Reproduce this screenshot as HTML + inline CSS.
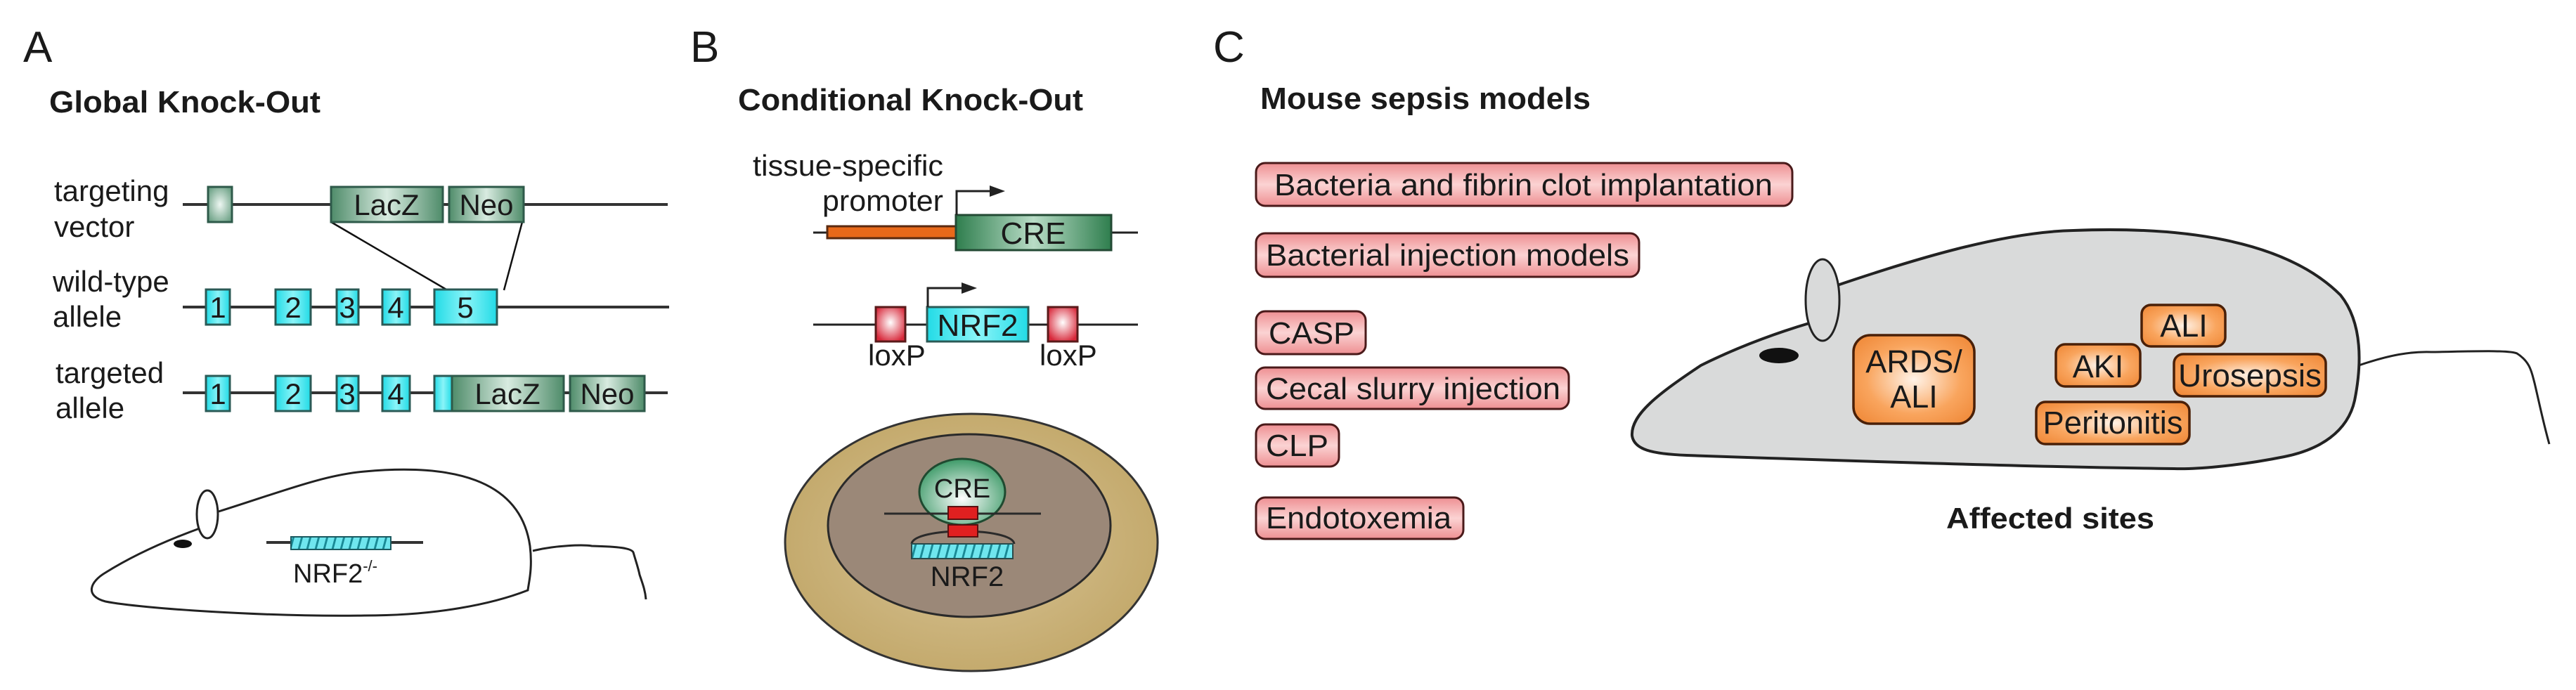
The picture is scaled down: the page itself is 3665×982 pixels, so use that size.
<!DOCTYPE html>
<html><head><meta charset="utf-8"><style>
html,body{margin:0;padding:0;background:#fff;width:3665px;height:982px;overflow:hidden}
svg{display:block}
text{font-family:"Liberation Sans",Arial,sans-serif;fill:#1a1a1a}
</style></head><body>
<svg width="3665" height="982" viewBox="0 0 3665 982" xmlns="http://www.w3.org/2000/svg">
<defs>
<linearGradient id="gr" x1="0" x2="1" y1="0" y2="0">
<stop offset="0" stop-color="#4f8c6a"/><stop offset="0.5" stop-color="#d8ebe0"/><stop offset="1" stop-color="#4f8c6a"/></linearGradient>
<radialGradient id="grs" cx="0.5" cy="0.5" r="0.6"><stop offset="0" stop-color="#eef7f2"/><stop offset="1" stop-color="#6fa388"/></radialGradient>
<linearGradient id="cy" x1="0" x2="1" y1="0" y2="0">
<stop offset="0" stop-color="#22dbe6"/><stop offset="0.5" stop-color="#8af4f8"/><stop offset="1" stop-color="#22dbe6"/></linearGradient>
<linearGradient id="cre" x1="0" x2="1" y1="0" y2="0">
<stop offset="0" stop-color="#2f7e4e"/><stop offset="0.5" stop-color="#b8dcc6"/><stop offset="1" stop-color="#2f7e4e"/></linearGradient>
<radialGradient id="red" cx="0.5" cy="0.45" r="0.6"><stop offset="0" stop-color="#ffffff"/><stop offset="1" stop-color="#d8283a"/></radialGradient>
<radialGradient id="cre2" cx="0.5" cy="0.6" r="0.6"><stop offset="0" stop-color="#ffffff"/><stop offset="1" stop-color="#3d9a68"/></radialGradient>
<radialGradient id="tan" cx="0.5" cy="0.5" r="0.6"><stop offset="0" stop-color="#d8c497"/><stop offset="1" stop-color="#c0a565"/></radialGradient>
<linearGradient id="pink" x1="0" x2="0" y1="0" y2="1">
<stop offset="0" stop-color="#ee8f92"/><stop offset="0.5" stop-color="#fbd3d3"/><stop offset="1" stop-color="#ee8f92"/></linearGradient>
<radialGradient id="org" cx="0.5" cy="0.5" r="0.65"><stop offset="0" stop-color="#fff3e8"/><stop offset="0.6" stop-color="#f9a55e"/><stop offset="1" stop-color="#f08a3a"/></radialGradient>
<pattern id="dash" width="12" height="20" patternUnits="userSpaceOnUse" patternTransform="skewX(-15)">
<rect width="12" height="20" fill="#6fe6ee"/><rect x="9" width="3" height="20" fill="#1a8a96"/></pattern>
</defs>

<!-- Panel A -->
<text x="33" y="88" font-size="62">A</text>
<text x="70" y="160" font-size="44" font-weight="bold" textLength="386" lengthAdjust="spacingAndGlyphs">Global Knock-Out</text>

<g stroke="#333" stroke-width="4">
<line x1="260" y1="291" x2="950" y2="291"/>
<line x1="260" y1="437" x2="952" y2="437"/>
<line x1="260" y1="559" x2="950" y2="559"/>
</g>
<g stroke="#111" stroke-width="2.5">
<line x1="471" y1="316" x2="635" y2="412"/>
<line x1="743" y1="316" x2="717" y2="413"/>
</g>
<g font-size="42">
<text x="77" y="286">targeting</text><text x="77" y="337">vector</text>
<text x="75" y="415">wild-type</text><text x="75" y="465">allele</text>
<text x="79" y="545">targeted</text><text x="79" y="595">allele</text>
</g>
<g stroke="#2e5a4a" stroke-width="3">
<rect x="296" y="266" width="34" height="50" fill="url(#grs)"/>
<rect x="471" y="266" width="159" height="50" fill="url(#gr)"/>
<rect x="639" y="266" width="106" height="50" fill="url(#gr)"/>
</g>
<g stroke="#2a5a56" stroke-width="3" fill="url(#cy)">
<rect x="293" y="412" width="34" height="50"/><rect x="392" y="412" width="50" height="50"/>
<rect x="479" y="412" width="31" height="50"/><rect x="544" y="412" width="39" height="50"/>
<rect x="618" y="412" width="89" height="50"/>
<rect x="293" y="535" width="34" height="50"/><rect x="392" y="535" width="50" height="50"/>
<rect x="479" y="535" width="31" height="50"/><rect x="544" y="535" width="39" height="50"/>
<rect x="618" y="535" width="25" height="50"/>
</g>
<g stroke="#2e5a4a" stroke-width="3">
<rect x="643" y="535" width="159" height="50" fill="url(#gr)"/>
<rect x="811" y="535" width="106" height="50" fill="url(#gr)"/>
</g>
<g font-size="42" text-anchor="middle">
<text x="550" y="306">LacZ</text><text x="692" y="306">Neo</text>
<text x="310" y="452">1</text><text x="417" y="452">2</text><text x="494" y="452">3</text><text x="563" y="452">4</text><text x="662" y="452">5</text>
<text x="310" y="575">1</text><text x="417" y="575">2</text><text x="494" y="575">3</text><text x="563" y="575">4</text>
<text x="722" y="575">LacZ</text><text x="864" y="575">Neo</text>
</g>

<!-- mouse A -->
<g fill="none" stroke="#222" stroke-width="3">
<path d="M311 728 C400 700 460 676 519 671 C640 660 740 680 754 777 C758 810 752 830 751 840 C700 860 620 876 519 876 C380 878 200 866 150 856 C120 848 128 828 150 815 C190 790 240 768 284 752"/>
<path d="M758 784 C790 776 830 775 842 777 C880 778 898 780 901 786 C905 800 908 808 910 818 C914 830 918 840 919 853"/>
</g>
<ellipse cx="295" cy="732" rx="15" ry="34" fill="#fff" stroke="#222" stroke-width="3"/>
<ellipse cx="260" cy="774" rx="13" ry="6" fill="#111"/>
<line x1="379" y1="772" x2="602" y2="772" stroke="#333" stroke-width="4"/>
<rect x="414" y="764" width="142" height="18" fill="url(#dash)" stroke="#1c5a60" stroke-width="2"/>
<text x="417" y="829" font-size="38" fill="#333">NRF2<tspan font-size="22" dy="-16">-/-</tspan></text>

<!-- Panel B -->
<text x="982" y="88" font-size="62">B</text>
<text x="1050" y="157" font-size="44" font-weight="bold" textLength="491" lengthAdjust="spacingAndGlyphs">Conditional Knock-Out</text>
<text x="1071" y="250" font-size="42" fill="#333" textLength="271" lengthAdjust="spacingAndGlyphs">tissue-specific</text>
<text x="1170" y="300" font-size="42" fill="#333" textLength="172" lengthAdjust="spacingAndGlyphs">promoter</text>
<line x1="1157" y1="331" x2="1619" y2="331" stroke="#222" stroke-width="3"/>
<rect x="1177" y="322" width="183" height="17" fill="#e8691a" stroke="#5a2a10" stroke-width="3"/>
<rect x="1360" y="306" width="221" height="50" fill="url(#cre)" stroke="#234a34" stroke-width="3"/>
<text x="1470" y="347" font-size="44" text-anchor="middle" fill="#3a4a44">CRE</text>
<path d="M1361 306 V272 H1412" fill="none" stroke="#222" stroke-width="3"/>
<path d="M1408 264 L1430 272 L1408 280 Z" fill="#222"/>

<line x1="1157" y1="462" x2="1619" y2="462" stroke="#222" stroke-width="3"/>
<rect x="1246" y="437" width="42" height="49" fill="url(#red)" stroke="#5a1a1a" stroke-width="3"/>
<rect x="1491" y="437" width="42" height="49" fill="url(#red)" stroke="#5a1a1a" stroke-width="3"/>
<rect x="1319" y="437" width="144" height="49" fill="url(#cy)" stroke="#2a5a56" stroke-width="3"/>
<text x="1391" y="478" font-size="44" text-anchor="middle" fill="#2a3a3a">NRF2</text>
<path d="M1320 437 V410 H1372" fill="none" stroke="#222" stroke-width="3"/>
<path d="M1368 402 L1390 410 L1368 418 Z" fill="#222"/>
<text x="1235" y="520" font-size="42" fill="#333">loxP</text>
<text x="1479" y="520" font-size="42" fill="#333">loxP</text>

<ellipse cx="1382" cy="772" rx="265" ry="183" fill="url(#tan)" stroke="#333" stroke-width="3"/>
<ellipse cx="1379" cy="748" rx="201" ry="130" fill="#9b8878" stroke="#2a2a2a" stroke-width="3"/>
<ellipse cx="1369" cy="700" rx="61" ry="47" fill="url(#cre2)" stroke="#1f4a30" stroke-width="3"/>
<text x="1369" y="708" font-size="38" text-anchor="middle" fill="#1a2a22">CRE</text>
<line x1="1258" y1="731" x2="1481" y2="731" stroke="#2a2a2a" stroke-width="3"/>
<path d="M1297 774 C1300 750 1440 750 1443 774" fill="none" stroke="#2a2a2a" stroke-width="3"/>
<rect x="1349" y="721" width="42" height="18" fill="#e02020" stroke="#5a1010" stroke-width="2"/>
<rect x="1349" y="747" width="42" height="17" fill="#e02020" stroke="#5a1010" stroke-width="2"/>
<rect x="1297" y="774" width="144" height="21" fill="url(#dash)" stroke="#2a4a4a" stroke-width="2"/>
<text x="1376" y="834" font-size="40" text-anchor="middle" fill="#333">NRF2</text>

<!-- Panel C -->
<text x="1726" y="88" font-size="62">C</text>
<text x="1793" y="155" font-size="44" font-weight="bold" textLength="470" lengthAdjust="spacingAndGlyphs">Mouse sepsis models</text>
<g stroke="#4a1a1a" stroke-width="3" fill="url(#pink)">
<rect x="1787" y="232" width="763" height="61" rx="13"/>
<rect x="1787" y="332" width="545" height="62" rx="13"/>
<rect x="1787" y="443" width="156" height="61" rx="13"/>
<rect x="1787" y="523" width="445" height="59" rx="13"/>
<rect x="1787" y="604" width="118" height="60" rx="13"/>
<rect x="1787" y="708" width="295" height="59" rx="13"/>
</g>
<g font-size="44">
<text x="1813" y="278" textLength="709" lengthAdjust="spacingAndGlyphs">Bacteria and fibrin clot implantation</text>
<text x="1801" y="378" textLength="517" lengthAdjust="spacingAndGlyphs">Bacterial injection models</text>
<text x="1805" y="489" textLength="122" lengthAdjust="spacingAndGlyphs">CASP</text>
<text x="1801" y="568" textLength="419" lengthAdjust="spacingAndGlyphs">Cecal slurry injection</text>
<text x="1801" y="649" textLength="89" lengthAdjust="spacingAndGlyphs">CLP</text>
<text x="1801" y="752" textLength="264" lengthAdjust="spacingAndGlyphs">Endotoxemia</text>
</g>

<path d="M3356 520 C3400 505 3430 500 3459 501 C3520 500 3570 498 3581 503 C3600 515 3602 530 3606 545 C3612 570 3618 600 3627 632" fill="none" stroke="#222" stroke-width="3"/>
<path d="M2611 407 C2720 370 2850 330 2950 328 C3100 322 3250 340 3330 420 C3362 460 3360 520 3350 570 C3340 615 3300 640 3250 650 C3180 664 3120 668 3093 667 C2900 665 2600 655 2400 648 C2350 646 2325 640 2322 620 C2320 590 2360 560 2420 520 C2480 490 2540 470 2574 460 Z" fill="#d9dada" stroke="#222" stroke-width="4"/>
<ellipse cx="2593" cy="427" rx="24" ry="58" fill="#d9dada" stroke="#222" stroke-width="3"/>
<ellipse cx="2531" cy="506" rx="28" ry="11" fill="#111"/>

<g stroke="#4a2008" stroke-width="3.5" fill="url(#org)">
<rect x="2637" y="477" width="172" height="126" rx="24"/>
<rect x="3047" y="434" width="119" height="59" rx="13"/>
<rect x="2925" y="490" width="120" height="60" rx="13"/>
<rect x="3093" y="504" width="216" height="60" rx="13"/>
<rect x="2897" y="572" width="218" height="60" rx="13"/>
</g>
<g font-size="45" text-anchor="middle">
<text x="2723" y="530">ARDS/</text>
<text x="2723" y="580">ALI</text>
<text x="3107" y="479">ALI</text>
<text x="2985" y="537">AKI</text>
<text x="3201" y="550" textLength="204" lengthAdjust="spacingAndGlyphs">Urosepsis</text>
<text x="3006" y="617" textLength="199" lengthAdjust="spacingAndGlyphs">Peritonitis</text>
</g>
<text x="2769" y="752" font-size="42" font-weight="bold" textLength="296" lengthAdjust="spacingAndGlyphs">Affected sites</text>
</svg>
</body></html>
